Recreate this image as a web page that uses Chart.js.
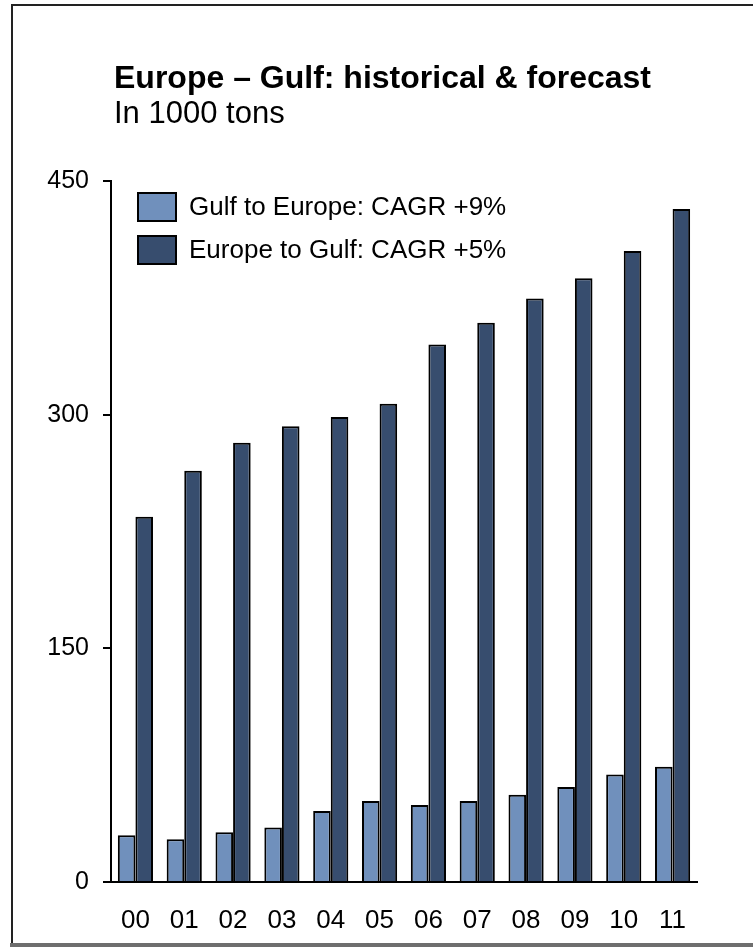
<!DOCTYPE html>
<html>
<head>
<meta charset="utf-8">
<script src="https://cdn.jsdelivr.net/npm/chart.js@4"></script>
<style>
  html, body { margin: 0; padding: 0; background: #fff; }
  #wrap { width: 753px; height: 948px; }
</style>
</head>
<body>
<div id="wrap"><canvas id="chart" width="753" height="948"></canvas></div>
<script>
// chart data
const years = ['00', '01', '02', '03', '04', '05', '06', '07', '08', '09', '10', '11'];
const gulfToEurope = [30, 27.5, 32, 35, 45.5, 52, 49.5, 52, 56, 61, 69, 74];
const europeToGulf = [234.5, 264, 282, 292.5, 298.5, 307, 345, 359, 374.5, 387.5, 405, 432];
const seriesLabels = ['Gulf to Europe: CAGR +9%', 'Europe to Gulf: CAGR +5%'];
const yTicks = [0, 150, 300, 450];
const titleText = 'Europe \u2013 Gulf: historical & forecast';
const subtitleText = 'In 1000 tons';

const FONT = '"Liberation Sans", Arial, sans-serif';

// frame + headings
const framePlugin = {
  id: 'frame',
  beforeDraw(chart) {
    const ctx = chart.ctx;
    ctx.save();
    ctx.fillStyle = '#fff';
    ctx.fillRect(0, 0, chart.width, chart.height);
    ctx.strokeStyle = '#222';
    ctx.lineWidth = 2;
    ctx.beginPath();
    ctx.moveTo(chart.width, 5);
    ctx.lineTo(12, 5);
    ctx.lineTo(12, 943);
    ctx.stroke();
    ctx.strokeStyle = '#6e6e6e';
    ctx.lineWidth = 4;
    ctx.beginPath();
    ctx.moveTo(10, 945);
    ctx.lineTo(chart.width, 945);
    ctx.stroke();

    ctx.fillStyle = '#000';
    ctx.textBaseline = 'alphabetic';
    ctx.textAlign = 'left';
    ctx.font = 'bold 32px ' + FONT;
    ctx.fillText(titleText, 114, 88);
    ctx.font = '31px ' + FONT;
    ctx.fillText(subtitleText, 114, 123);
    ctx.restore();
  }
};

// legend inside the plot
const legendPlugin = {
  id: 'innerLegend',
  afterDraw(chart) {
    const ctx = chart.ctx;
    ctx.save();
    ctx.font = '26px ' + FONT;
    ctx.textBaseline = 'middle';
    chart.data.datasets.forEach(function(ds, i) {
      const y = 193 + i * 43;
      ctx.fillStyle = ds.backgroundColor;
      ctx.fillRect(138, y, 38, 28);
      ctx.strokeStyle = '#000';
      ctx.lineWidth = 2;
      ctx.strokeRect(138, y, 38, 28);
      ctx.fillStyle = '#000';
      ctx.fillText(ds.label, 189, y + 15);
    });
    ctx.restore();
  }
};

const ctx = document.getElementById('chart').getContext('2d');
new Chart(ctx, {
  type: 'bar',
  data: {
    labels: years,
    datasets: [{
      label: seriesLabels[0],
      data: gulfToEurope,
      backgroundColor: '#7090bc',
      borderColor: '#000',
      borderWidth: 2,
      categoryPercentage: 0.72,
      barPercentage: 1.0
    }, {
      label: seriesLabels[1],
      data: europeToGulf,
      backgroundColor: '#374d6e',
      borderColor: '#000',
      borderWidth: 2,
      categoryPercentage: 0.72,
      barPercentage: 1.0
    }]
  },
  options: {
    responsive: false,
    animation: false,
    devicePixelRatio: 1,
    layout: { padding: { top: 181, right: 56, bottom: 12, left: 0 } },
    plugins: {
      legend: { display: false },
      title: { display: false },
      tooltip: { enabled: false }
    },
    scales: {
      x: {
        afterFit(scale) { scale.height = 54; },
        grid: { display: false, drawTicks: false },
        border: { display: true, color: '#000', width: 2 },
        ticks: {
          color: '#000',
          padding: 23,
          font: { family: FONT, size: 26 }
        }
      },
      y: {
        min: 0,
        max: 450,
        afterBuildTicks(scale) {
          scale.ticks = yTicks.map(v => ({ value: v }));
        },
        afterFit(scale) { scale.width = 111; },
        grid: {
          drawOnChartArea: false,
          drawTicks: true,
          tickLength: 8,
          color: '#000',
          lineWidth: 2
        },
        border: { display: true, color: '#000', width: 2 },
        ticks: {
          color: '#000',
          padding: 14,
          font: { family: FONT, size: 25 }
        }
      }
    }
  },
  plugins: [framePlugin, legendPlugin]
});
</script>
</body>
</html>
